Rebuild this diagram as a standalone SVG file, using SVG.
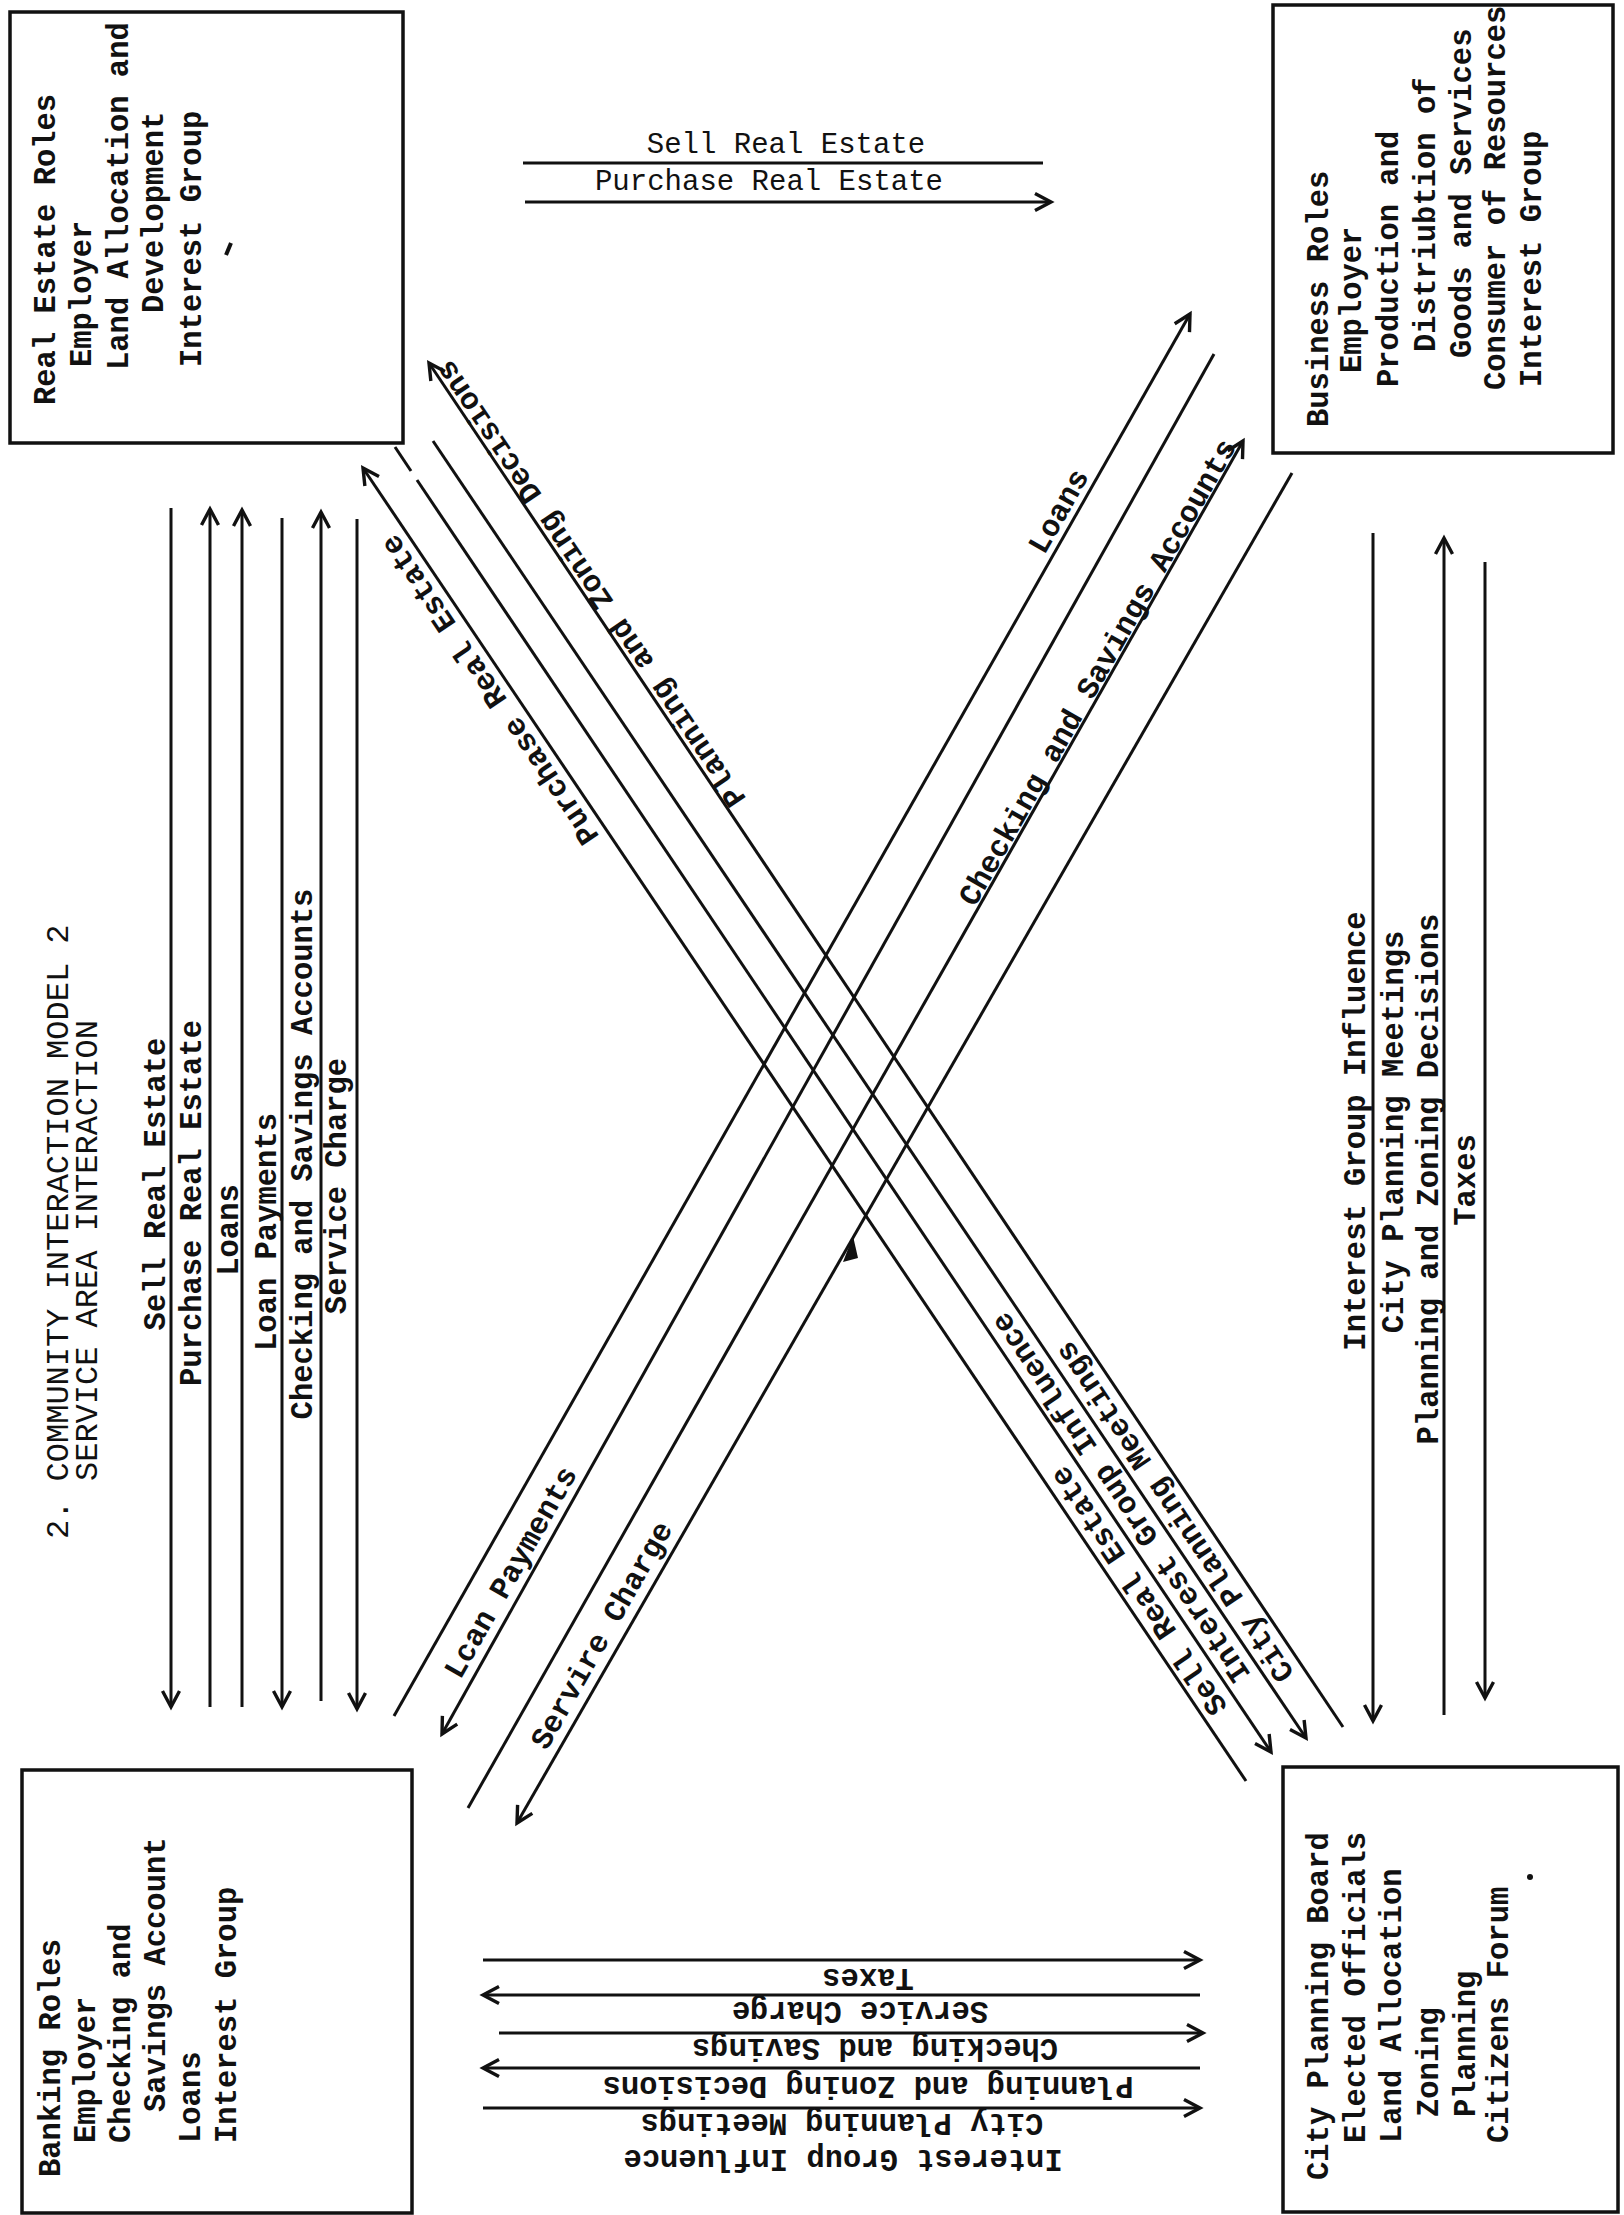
<svg xmlns="http://www.w3.org/2000/svg" width="1624" height="2215" viewBox="0 0 1624 2215">
<defs>
<style>
.box{fill:none;stroke:#111;stroke-width:3.5}
.ln{fill:none;stroke:#111;stroke-width:3}
.ar{marker-end:url(#ah)}
.bx{font-family:"Liberation Mono","DejaVu Sans Mono",monospace;font-size:30.5px;font-weight:700;fill:#111;dominant-baseline:central}
.lb{font-family:"Liberation Mono","DejaVu Sans Mono",monospace;font-size:30.5px;font-weight:700;fill:#111;dominant-baseline:central;text-anchor:middle}
.tp{font-family:"Liberation Mono","DejaVu Sans Mono",monospace;font-size:29px;font-weight:400;fill:#111;text-anchor:middle}
.ti{font-family:"Liberation Mono","DejaVu Sans Mono",monospace;font-size:32px;font-weight:400;fill:#111;dominant-baseline:central}
</style>
<marker id="ah" markerWidth="24" markerHeight="22" refX="19" refY="11" orient="auto" markerUnits="userSpaceOnUse">
<path d="M3,2.5 L19,11 L3,19.5" fill="none" stroke="#111" stroke-width="3.4" stroke-linejoin="miter"/>
</marker>
</defs>
<rect width="1624" height="2215" fill="#fff"/>

<g id="title">
<text class="ti" transform="translate(59,1539) rotate(-90)">2. COMMUNITY INTERACTION MODEL 2</text>
<text class="ti" transform="translate(88,1481) rotate(-90)">SERVICE AREA INTERACTION</text>
</g>

<g id="real-estate">
<rect class="box" x="10" y="12" width="393" height="431"/>
<text class="bx" transform="translate(47,405) rotate(-90)">Real Estate Roles</text>
<text class="bx" transform="translate(83,367) rotate(-90)">Employer</text>
<text class="bx" transform="translate(120,370) rotate(-90)">Land Allocation and</text>
<text class="bx" transform="translate(155,313) rotate(-90)">Development</text>
<text class="bx" transform="translate(193,367) rotate(-90)">Interest Group</text>
<path d="M226,255 L231,243" stroke="#111" stroke-width="4" fill="none"/>
</g>

<g id="business">
<rect class="box" x="1273" y="5" width="340" height="448"/>
<text class="bx" transform="translate(1320,427) rotate(-90)">Business Roles</text>
<text class="bx" transform="translate(1353,373) rotate(-90)">Employer</text>
<text class="bx" transform="translate(1390,387) rotate(-90)">Production and</text>
<text class="bx" transform="translate(1427,352) rotate(-90)">Distriubtion of</text>
<text class="bx" transform="translate(1463,358) rotate(-90)">Goods and Services</text>
<text class="bx" transform="translate(1497,390) rotate(-90)">Consumer of Resources</text>
<text class="bx" transform="translate(1533,387) rotate(-90)">Interest Group</text>
</g>

<g id="banking">
<rect class="box" x="22" y="1770" width="390" height="443"/>
<text class="bx" transform="translate(52,2177) rotate(-90)">Banking Roles</text>
<text class="bx" transform="translate(87,2143) rotate(-90)">Employer</text>
<text class="bx" transform="translate(122,2143) rotate(-90)">Checking and</text>
<text class="bx" transform="translate(157,2112) rotate(-90)">Savings Account</text>
<text class="bx" transform="translate(192,2143) rotate(-90)">Loans</text>
<text class="bx" transform="translate(228,2143) rotate(-90)">Interest Group</text>
</g>

<g id="city-planning">
<rect class="box" x="1283" y="1767" width="335" height="445"/>
<text class="bx" transform="translate(1320,2180) rotate(-90)">City Planning Board</text>
<text class="bx" transform="translate(1357,2143) rotate(-90)">Elected Officials</text>
<text class="bx" transform="translate(1393,2143) rotate(-90)">Land Allocation</text>
<text class="bx" transform="translate(1430,2117) rotate(-90)">Zoning</text>
<text class="bx" transform="translate(1467,2117) rotate(-90)">Planning</text>
<text class="bx" transform="translate(1500,2143) rotate(-90)">Citizens Forum</text>
<circle cx="1530" cy="1877" r="3" fill="#111"/>
</g>

<g id="connectors">
<!-- top horizontal -->
<line class="ln" x1="523" y1="163" x2="1043" y2="163"/>
<line class="ln ar" x1="525" y1="202" x2="1051" y2="202"/>
<!-- left verticals -->
<line class="ln ar" x1="171" y1="508" x2="171" y2="1707"/>
<line class="ln ar" x1="210" y1="1707" x2="210" y2="509"/>
<line class="ln ar" x1="242" y1="1707" x2="242" y2="510"/>
<line class="ln ar" x1="282" y1="518" x2="282" y2="1707"/>
<line class="ln ar" x1="321" y1="1701" x2="321" y2="512"/>
<line class="ln ar" x1="357" y1="519" x2="357" y2="1709"/>
<!-- right verticals -->
<line class="ln ar" x1="1373" y1="533" x2="1373" y2="1721"/>
<line class="ln ar" x1="1444" y1="1715" x2="1444" y2="538"/>
<line class="ln ar" x1="1485" y1="562" x2="1485" y2="1698"/>
<!-- bottom horizontal -->
<line class="ln ar" x1="483" y1="1960" x2="1200" y2="1960"/>
<line class="ln ar" x1="1200" y1="1995" x2="483" y2="1995"/>
<line class="ln ar" x1="499" y1="2033" x2="1203" y2="2033"/>
<line class="ln ar" x1="1200" y1="2068" x2="483" y2="2068"/>
<line class="ln ar" x1="483" y1="2108" x2="1200" y2="2108"/>
<!-- descending diagonals -->
<line class="ln ar" x1="1246" y1="1781" x2="363" y2="468"/>
<line class="ln" x1="395" y1="447" x2="411" y2="471"/>
<line class="ln ar" x1="417" y1="480" x2="1271" y2="1752"/>
<line class="ln ar" x1="433" y1="441" x2="1306" y2="1738"/>
<line class="ln ar" x1="1343" y1="1727" x2="429" y2="363"/>
<!-- ascending diagonals -->
<line class="ln ar" x1="394" y1="1716" x2="1190" y2="314"/>
<line class="ln ar" x1="1214" y1="354" x2="442" y2="1734"/>
<line class="ln ar" x1="468" y1="1808" x2="1243" y2="441"/>
<line class="ln ar" x1="1292" y1="473" x2="517" y2="1823"/>
<path d="M843,1262 L853,1236 L858,1258 Z" fill="#111"/>
</g>

<g id="labels">
<text class="tp" x="786" y="153">Sell Real Estate</text>
<text class="tp" x="769" y="190">Purchase Real Estate</text>

<text class="lb" transform="translate(157,1184) rotate(-90)">Sell Real Estate</text>
<text class="lb" transform="translate(193,1203) rotate(-90)">Purchase Real Estate</text>
<text class="lb" transform="translate(230,1230) rotate(-90)">Loans</text>
<text class="lb" transform="translate(268,1232) rotate(-90)">Loan Payments</text>
<text class="lb" transform="translate(304,1154) rotate(-90)">Checking and Savings Accounts</text>
<text class="lb" transform="translate(338,1186) rotate(-90)">Service Charge</text>

<text class="lb" transform="translate(1357,1131) rotate(-90)">Interest Group Influence</text>
<text class="lb" transform="translate(1395,1132) rotate(-90)">City Planning Meetings</text>
<text class="lb" transform="translate(1430,1179) rotate(-90)">Planning and Zoning Decisions</text>
<text class="lb" transform="translate(1467,1180) rotate(-90)">Taxes</text>

<text class="lb" transform="translate(491,689) rotate(-123.9)">Purchase Real Estate</text>
<text class="lb" transform="translate(592,583) rotate(-123.9)">Planning and Zoning Decisions</text>
<text class="lb" transform="translate(1140,1590) rotate(-123.9)">Sell Real Estate</text>
<text class="lb" transform="translate(1122,1497) rotate(-123.9)">Interest Group Influence</text>
<text class="lb" transform="translate(1176,1511) rotate(-123.9)">City Planning Meetings</text>

<text class="lb" transform="translate(1060,512) rotate(-60.4)">Loans</text>
<text class="lb" transform="translate(1099,673) rotate(-60.4)">Checking and Savings Accounts</text>
<text class="lb" transform="translate(512,1573) rotate(-60.4)">Lcan Payments</text>
<text class="lb" transform="translate(603,1636) rotate(-60.4)">Servire Charge</text>

<text class="lb" transform="translate(868,1977) rotate(180)">Taxes</text>
<text class="lb" transform="translate(860,2010) rotate(180)">Service Charge</text>
<text class="lb" transform="translate(875,2047) rotate(180)">Checking and Savings</text>
<text class="lb" transform="translate(868,2085) rotate(180)">Planning and Zoning Decisions</text>
<text class="lb" transform="translate(842,2122) rotate(180)">City Planning Meetings</text>
<text class="lb" transform="translate(843,2158) rotate(180)">Interest Group Influence</text>
</g>
</svg>
